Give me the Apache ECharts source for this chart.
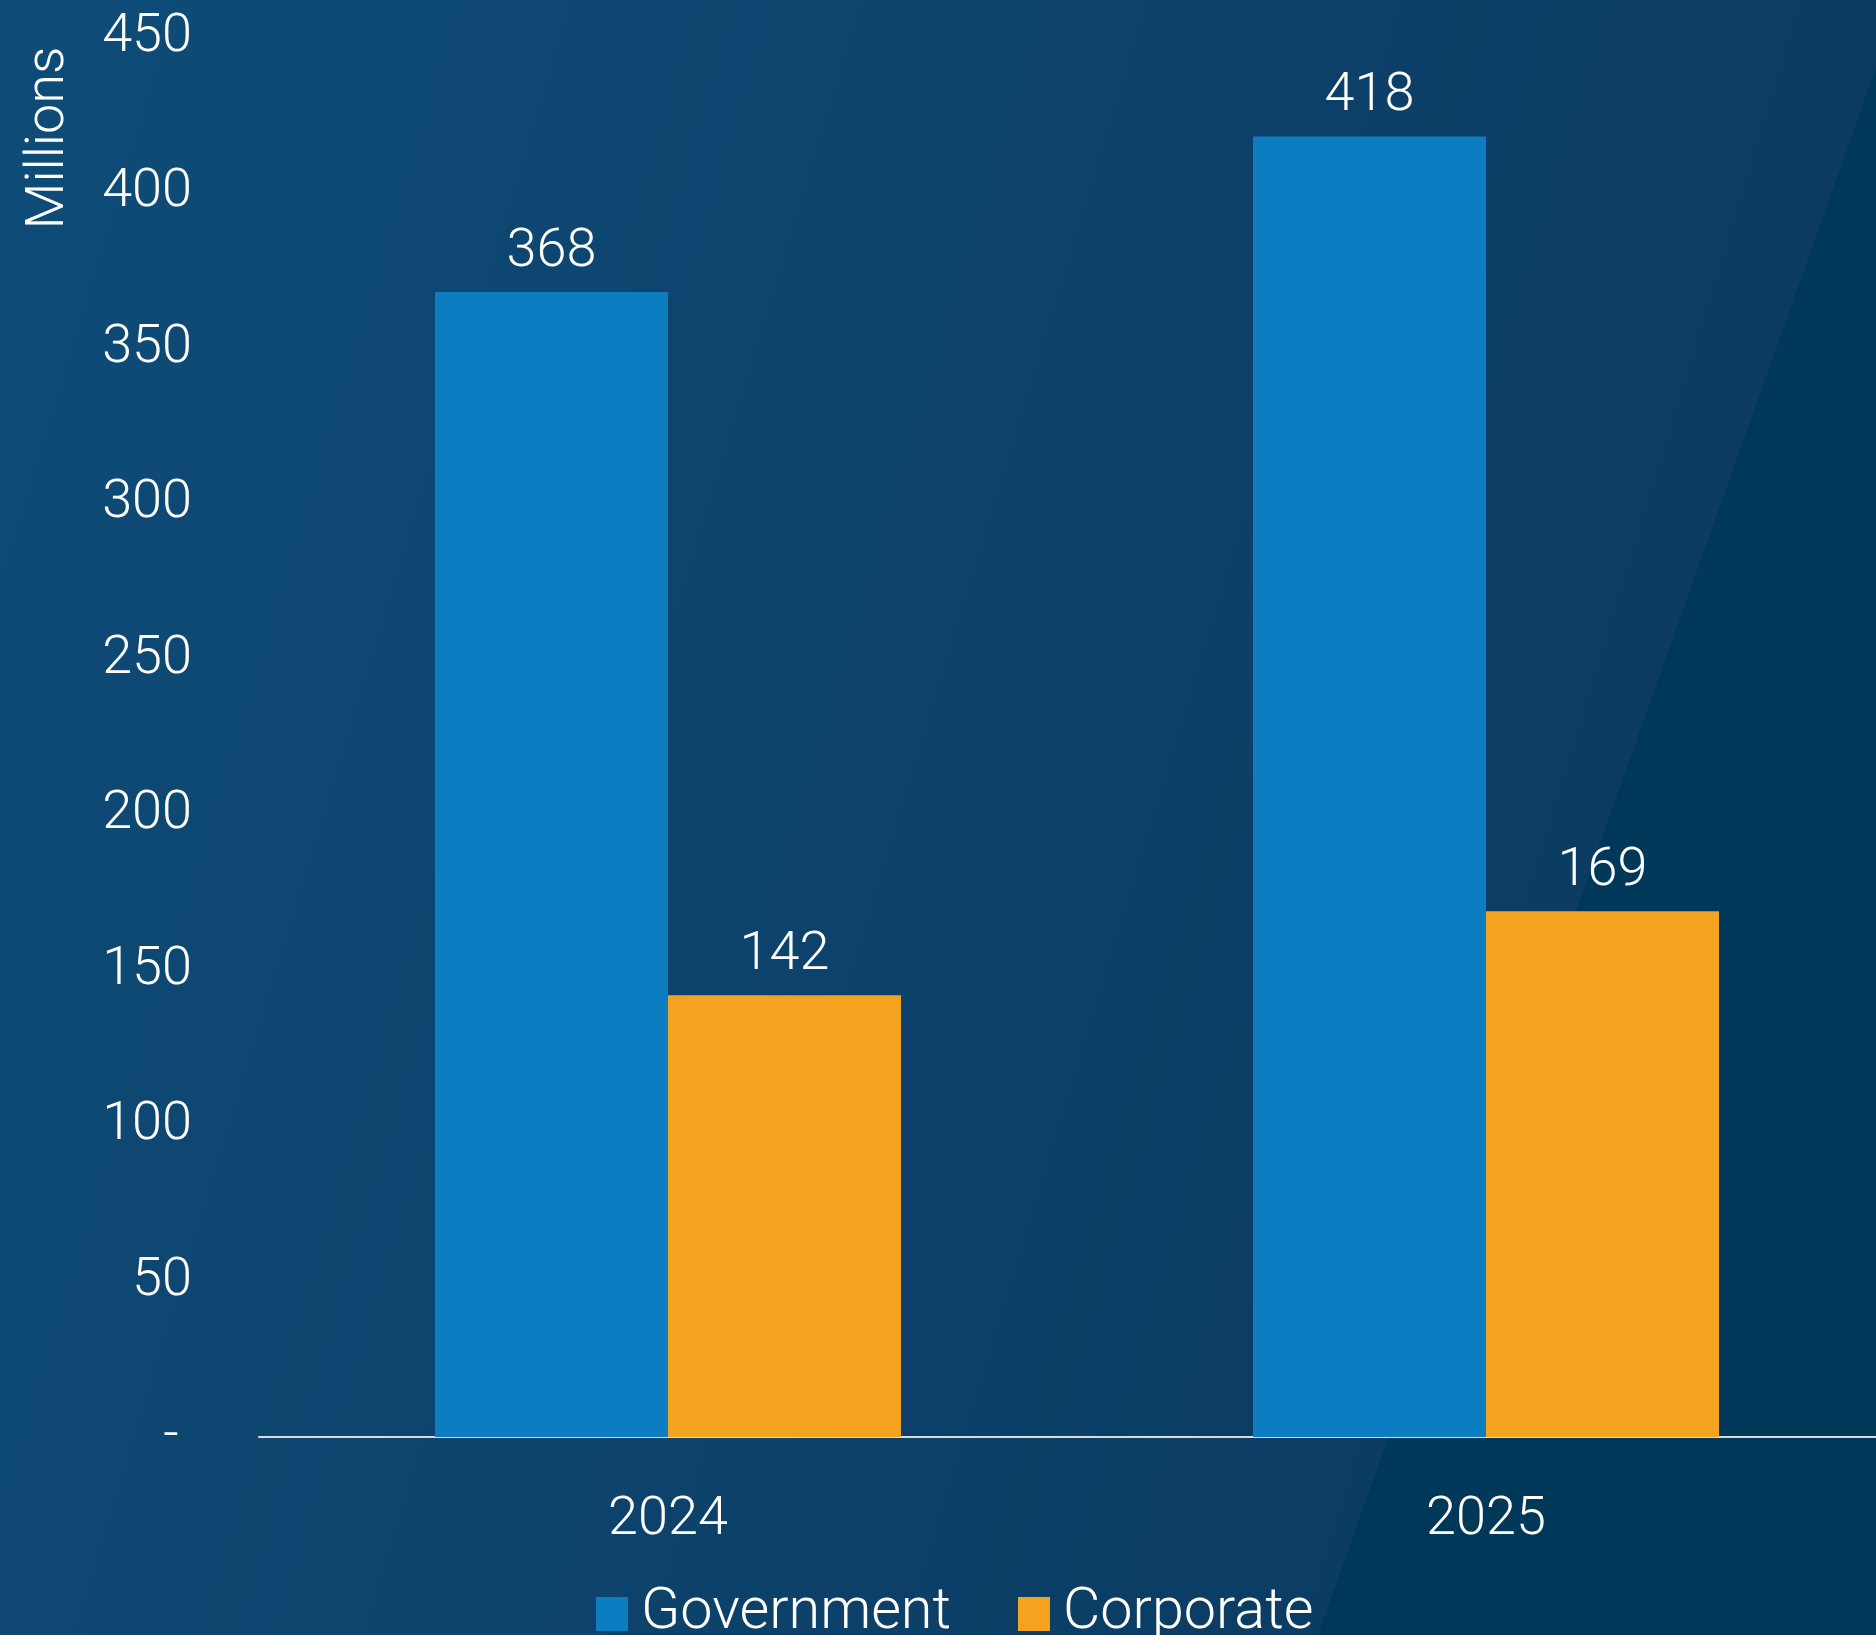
<!DOCTYPE html>
<html>
<head>
<meta charset="utf-8">
<script src="https://cdn.jsdelivr.net/npm/echarts@6/dist/echarts.min.js"></script>
<style>
  html, body { margin: 0; padding: 0; }
  #chart { width: 1876px; height: 1635px; }
</style>
</head>
<body>
<div id="chart"></div>
<script>
// 数据
var years = ['2024', '2025'];
var government = [368, 418];
var corporate = [142, 169];
var seriesNames = ['Government', 'Corporate'];

var FONT = 'Roboto';
var myChart = echarts.init(document.getElementById('chart'));

var option = {
  backgroundColor: {
    type: 'linear', x: 0, y: 0, x2: 1, y2: 0.35,
    colorStops: [
      { offset: 0, color: '#0e4c78' },
      { offset: 1, color: '#0b3a60' }
    ]
  },
  textStyle: { fontFamily: FONT, fontWeight: 300, color: '#ffffff' },
  graphic: [
    {
      // 右下角的斜面
      type: 'polygon',
      z: -10,
      silent: true,
      shape: { points: [[1876, 68], [1318, 1635], [1876, 1635]] },
      style: { fill: '#00385a' }
    },
    {
      type: 'text',
      x: 49,
      y: 138,
      rotation: Math.PI / 2,
      style: {
        text: 'Millions',
        fill: '#ffffff',
        font: '300 54px ' + FONT,
        align: 'center',
        verticalAlign: 'middle'
      }
    }
  ],
  legend: {
    left: 591,
    top: 1580,
    icon: 'rect',
    itemWidth: 32,
    itemHeight: 34,
    itemGap: 67,
    data: seriesNames,
    textStyle: {
      color: '#ffffff',
      fontSize: 57.5,
      fontWeight: 300,
      fontFamily: FONT,
      padding: [0, 0, 0, 8]
    }
  },
  grid: {
    left: 259,
    width: 1636,
    top: 37,
    bottom: 198,
    containLabel: false,
    outerBoundsMode: 'none'
  },
  xAxis: {
    type: 'category',
    data: years,
    axisLine: { lineStyle: { color: '#d3dbe3', width: 2 } },
    axisTick: { show: false },
    axisLabel: {
      color: '#ffffff',
      fontSize: 54,
      fontWeight: 300,
      fontFamily: FONT,
      margin: 56
    }
  },
  yAxis: {
    type: 'value',
    min: 0,
    max: 450,
    interval: 50,
    axisLine: { show: false },
    axisTick: { show: false },
    splitLine: { show: false },
    axisLabel: {
      color: '#ffffff',
      fontSize: 54,
      fontWeight: 300,
      fontFamily: FONT,
      margin: 67,
      formatter: function (v) {
        return v === 0 ? '- ' : v
      }
    }
  },
  series: [
    {
      name: seriesNames[0],
      type: 'bar',
      data: government,
      barWidth: 233,
      barGap: '0%',
      itemStyle: { color: '#0d7dc1' },
      label: {
        show: true,
        position: 'top',
        distance: 13,
        color: '#ffffff',
        fontSize: 54,
        fontWeight: 300,
        fontFamily: FONT
      }
    },
    {
      name: seriesNames[1],
      type: 'bar',
      data: corporate,
      barWidth: 233,
      barGap: '0%',
      itemStyle: { color: '#f4a320' },
      label: {
        show: true,
        position: 'top',
        distance: 13,
        color: '#ffffff',
        fontSize: 54,
        fontWeight: 300,
        fontFamily: FONT
      }
    }
  ]
};

myChart.setOption(option);
</script>
</body>
</html>
